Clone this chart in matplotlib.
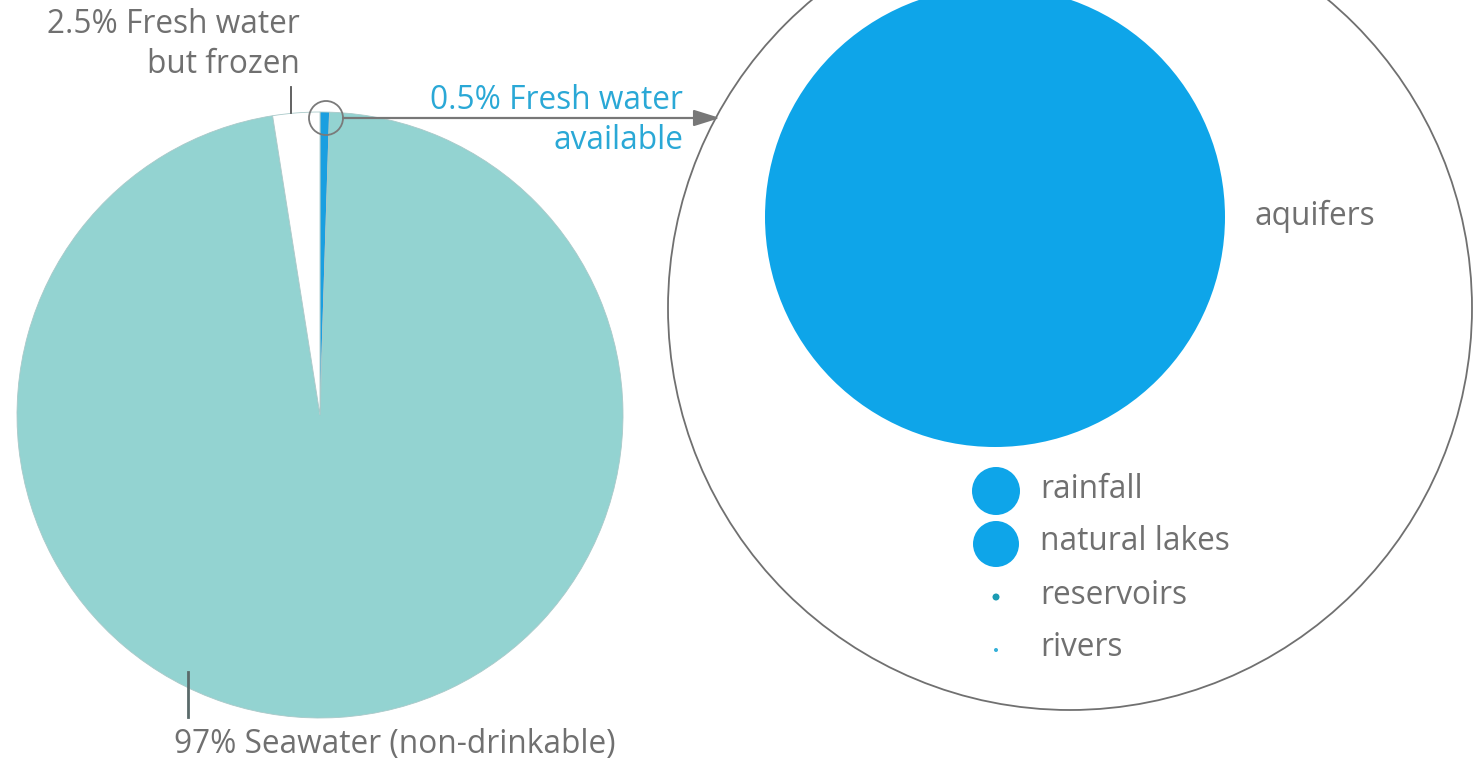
import numpy as np
import matplotlib
matplotlib.use("Agg")
import matplotlib.pyplot as plt
from matplotlib.patches import Circle

# pie shares (percent of all water on earth)
pie_labels = ["0.5% Fresh water\navailable", "97% Seawater (non-drinkable)", "2.5% Fresh water\nbut frozen"]
pie_values = [0.5, 97, 2.5]
pie_colors = ["#1a9fe0", "#93d3d1", "#ffffff"]

# fresh water available, split by source (circle radii, px)
src_names = ["aquifers", "rainfall", "natural lakes", "reservoirs", "rivers"]
src_radius = [230, 24, 23, 3.5, 2]
src_colors = ["#0ea5e9", "#0ea5e9", "#0ea5e9", "#1b9bb3", "#35b0d8"]

grey = "#707070"
blue_txt = "#2aa8d6"
fs = 22.8
plt.rcParams['font.family'] = ['Open Sans', 'DejaVu Sans']

fig = plt.figure(figsize=(14.74, 7.65), dpi=100)
ax = fig.add_axes([0, 0, 1, 1])

# left pie (y axis inverted, so angles run the other way)
ax.pie(pie_values, colors=pie_colors, center=(320, 415), radius=303,
       startangle=-90, counterclock=True,
       wedgeprops=dict(edgecolor="#a9c9c9", linewidth=0.6))

ax.set_xlim(0, 1474)
ax.set_ylim(765, 0)
ax.set_aspect('equal')
ax.axis('off')

# magnifier on the thin slice + arrow to the zoomed circle
ax.add_patch(Circle((326, 118), 17, fill=False, edgecolor="#7a7a7a", lw=1.3, zorder=5))
ax.annotate("", xy=(720, 118), xytext=(343, 118),
            arrowprops=dict(arrowstyle="-|>,head_length=1.6,head_width=0.5",
                            color="#777777", lw=1.6, shrinkA=0, shrinkB=0), zorder=5)

# labels of the pie
lbl = pie_labels
ax.plot([291, 291], [87, 113], color="#555555", lw=1.3)
ax.text(300, 24, lbl[2].split("\n")[0], ha="right", va="center", fontsize=fs, color=grey)
ax.text(300, 64, lbl[2].split("\n")[1], ha="right", va="center", fontsize=fs, color=grey)
ax.text(683, 100, lbl[0].split("\n")[0], ha="right", va="center", fontsize=fs, color=blue_txt)
ax.text(683, 140, lbl[0].split("\n")[1], ha="right", va="center", fontsize=fs, color=blue_txt)
ax.plot([188, 188], [672, 717], color="#5a6a6a", lw=2)
ax.text(174, 745, lbl[1], ha="left", va="center", fontsize=fs, color=grey)

# big circle: all available fresh water
ax.add_patch(Circle((1070, 308), 402, fill=False, edgecolor="#707070", lw=1.3))

# aquifers
ax.add_patch(Circle((995, 217), src_radius[0], color=src_colors[0], lw=0))
ax.text(1255, 216, src_names[0], ha="left", va="center", fontsize=fs, color=grey)

# the small sources listed below
ys = [491, 544, 597, 650]
for name, r, c, y in zip(src_names[1:], src_radius[1:], src_colors[1:], ys):
    ax.add_patch(Circle((996, y), r, color=c, lw=0))
    ax.text(1040, y - 2, name, ha="left", va="center", fontsize=fs, color=grey)

fig.savefig("out.png", dpi=100, facecolor="white")
